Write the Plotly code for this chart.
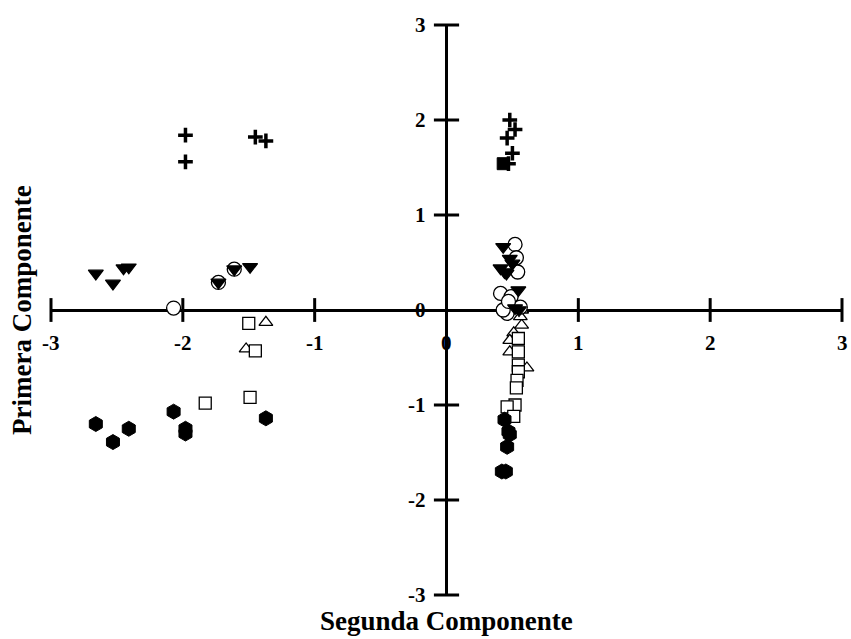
import plotly.graph_objects as go

# ---- data ----
plus_x = [-1.98, -1.98, -1.45, -1.37, 0.48, 0.52, 0.46, 0.50, 0.47]
plus_y = [1.84, 1.56, 1.82, 1.78, 2.00, 1.90, 1.81, 1.65, 1.54]

fsq_x = [0.43]
fsq_y = [1.54]

circ_x = [-2.07, -1.73, -1.61, 0.52, 0.53, 0.54, 0.41, 0.49, 0.46, 0.56, 0.43, 0.47]
circ_y = [0.02, 0.29, 0.43, 0.69, 0.55, 0.40, 0.175, 0.14, -0.035, 0.03, 0.0, 0.09]

tri_x = [-2.66, -2.53, -2.45, -2.41, -1.49, -1.73, -1.61, 0.43, 0.48, 0.41, 0.455, 0.50, 0.545, 0.52, 0.55, 0.44]
tri_y = [0.385, 0.28, 0.44, 0.45, 0.455, 0.29, 0.43, 0.665, 0.54, 0.44, 0.385, 0.49, 0.21, 0.02, 0.0, 0.40]

otri_x = [-1.37, -1.52, 0.57, 0.51, 0.48, 0.48, 0.57, 0.61, 0.56]
otri_y = [-0.13, -0.41, -0.16, -0.24, -0.32, -0.44, 0.0, -0.61, -0.07]

sq_x = [-1.50, -1.45, -1.83, -1.49, 0.545, 0.545, 0.545, 0.545, 0.535, 0.53, 0.52, 0.46, 0.51]
sq_y = [-0.14, -0.43, -0.98, -0.92, -0.30, -0.44, -0.58, -0.65, -0.74, -0.82, -1.00, -1.02, -1.12]

hex_x = [-2.66, -2.53, -2.41, -2.07, -1.98, -1.98, -1.37, 0.44, 0.47, 0.48, 0.46, 0.42, 0.45]
hex_y = [-1.20, -1.39, -1.25, -1.07, -1.25, -1.30, -1.14, -1.155, -1.28, -1.31, -1.44, -1.70, -1.70]

tick_vals = [-3, -2, -1, 1, 2, 3]
x_tick_labels = ["-3", "-2", "-1", "0", "1", "2", "3"]
x_tick_pos = [-3, -2, -1, 0, 1, 2, 3]
y_tick_labels = ["-3", "-2", "-1", "0", "1", "2", "3"]
y_tick_pos = [-3, -2, -1, 0, 1, 2, 3]

x_title = "Segunda Componente"
y_title = "Primera Componente"

FONT = "Liberation Serif"

fig = go.Figure()

# tick marks crossing the axes
fig.add_trace(go.Scatter(x=tick_vals, y=[0] * len(tick_vals), mode="markers",
                         marker=dict(symbol="line-ns", size=17, line=dict(color="black", width=3)),
                         cliponaxis=False, hoverinfo="skip"))
fig.add_trace(go.Scatter(x=[0] * len(tick_vals), y=tick_vals, mode="markers",
                         marker=dict(symbol="line-ew", size=18, line=dict(color="black", width=3)),
                         cliponaxis=False, hoverinfo="skip"))

fig.add_trace(go.Scatter(x=otri_x, y=otri_y, mode="markers",
                         marker=dict(symbol="triangle-up", size=12, color="white",
                                     line=dict(color="black", width=1.3))))
fig.add_trace(go.Scatter(x=sq_x, y=sq_y, mode="markers",
                         marker=dict(symbol="square", size=12, color="white",
                                     line=dict(color="black", width=1.3))))
fig.add_trace(go.Scatter(x=hex_x, y=hex_y, mode="markers",
                         marker=dict(symbol="hexagon", size=15, color="black",
                                     line=dict(color="black", width=1))))
fig.add_trace(go.Scatter(x=circ_x, y=circ_y, mode="markers",
                         marker=dict(symbol="circle", size=14, color="white",
                                     line=dict(color="black", width=1.3))))
fig.add_trace(go.Scatter(x=tri_x, y=tri_y, mode="markers",
                         marker=dict(symbol="triangle-down", size=13, color="black",
                                     line=dict(color="black", width=1.2))))
fig.add_trace(go.Scatter(x=fsq_x, y=fsq_y, mode="markers",
                         marker=dict(symbol="square", size=12, color="black",
                                     line=dict(color="black", width=1))))
fig.add_trace(go.Scatter(x=plus_x, y=plus_y, mode="markers",
                         marker=dict(symbol="cross-thin", size=10.5,
                                     line=dict(color="black", width=3.5))))

annotations = []
for v, t in zip(x_tick_pos, x_tick_labels):
    annotations.append(dict(x=v, y=0, xref="x", yref="y", text="<b>" + t + "</b>", showarrow=False,
                            xanchor="center", yanchor="middle", yshift=-33,
                            font=dict(family=FONT, size=21, color="black")))
for v, t in zip(y_tick_pos, y_tick_labels):
    annotations.append(dict(x=0, y=v, xref="x", yref="y", text="<b>" + t + "</b>", showarrow=False,
                            xanchor="right", yanchor="middle", xshift=-19,
                            font=dict(family=FONT, size=21, color="black")))
annotations.append(dict(x=0, y=0, xref="x", yref="paper", text="<b>" + x_title + "</b>", showarrow=False,
                        xanchor="center", yanchor="middle", yshift=-26,
                        font=dict(family=FONT, size=27, color="black")))
annotations.append(dict(x=0, y=0, xref="paper", yref="y", text="<b>" + y_title + "</b>", showarrow=False,
                        xanchor="center", yanchor="middle", xshift=-29, textangle=-90,
                        font=dict(family=FONT, size=27, color="black")))

fig.update_layout(
    width=851, height=639,
    margin=dict(l=51, r=9, t=25, b=44),
    paper_bgcolor="white", plot_bgcolor="white",
    showlegend=False,
    annotations=annotations,
    xaxis=dict(range=[-3, 3], showgrid=False, showticklabels=False, ticks="",
               zeroline=True, zerolinecolor="black", zerolinewidth=3, fixedrange=True),
    yaxis=dict(range=[-3, 3], showgrid=False, showticklabels=False, ticks="",
               zeroline=True, zerolinecolor="black", zerolinewidth=3, fixedrange=True),
)

fig.write_html("out.html")
